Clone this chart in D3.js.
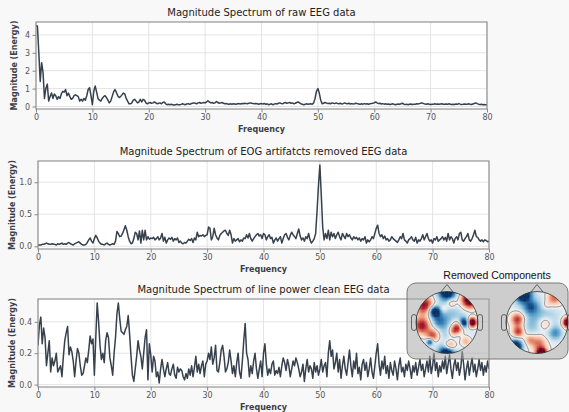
<!DOCTYPE html>
<html><head><meta charset="utf-8">
<script src="https://cdn.jsdelivr.net/npm/d3@7"></script>
<style>body{margin:0;background:#f8f8f8;} svg{display:block}</style>
</head><body><svg id="c" width="569" height="412"></svg>
<script>
// ---------- data ----------
const freqStep = 0.25;               // Hz between spectrum bins
const xTicks = [0,10,20,30,40,50,60,70,80];
const titles = [
  "Magnitude Spectrum of raw EEG data",
  "Magnitude Spectrum of EOG artifatcts removed EEG data",
  "Magnitude Spectrum of line power clean EEG data"
];
const yTicksRaw = [0,1,2,3,4];
const yTicksEog = [0.0,0.5,1.0];
const yTicksClean = [0.0,0.2,0.4];

const rawValues = [
4.5,4.5,3.0,1.4, 2.45,1.9,0.45,1.0, 1.25,0.3,0.55,0.75, 0.45,0.7,0.6,0.4, 0.55,0.45,0.7,0.85,
0.8,0.95,0.6,0.75, 0.55,0.4,0.45,0.6, 0.65,0.6,0.55,0.3, 0.4,0.3,0.45,0.35, 0.6,0.95,1.05,0.6,
0.1,0.85,1.15,0.8, 0.45,0.35,0.3,0.45, 0.55,0.6,0.5,0.35, 0.2,0.3,0.55,0.8, 0.95,0.8,0.6,0.5,
0.55,0.65,0.75,0.7, 0.45,0.3,0.15,0.15, 0.2,0.35,0.4,0.3, 0.2,0.25,0.4,0.25, 0.4,0.35,0.2,0.15,
0.2,0.22,0.18,0.2, 0.25,0.2,0.15,0.18, 0.2,0.15,0.22,0.25, 0.15,0.1,0.12,0.1, 0.12,0.1,0.08,0.1,
0.12,0.1,0.09,0.12, 0.15,0.12,0.1,0.14, 0.16,0.12,0.15,0.18, 0.2,0.18,0.15,0.2, 0.22,0.18,0.2,0.22,
0.2,0.25,0.32,0.25, 0.2,0.22,0.18,0.2, 0.28,0.22,0.18,0.2, 0.22,0.18,0.15,0.16, 0.14,0.12,0.15,0.13,
0.15,0.14,0.12,0.15, 0.16,0.14,0.17,0.15, 0.18,0.16,0.15,0.18, 0.2,0.18,0.16,0.15, 0.17,0.15,0.13,0.15,
0.16,0.14,0.17,0.12, 0.15,0.1,0.12,0.15, 0.1,0.13,0.16,0.14, 0.18,0.2,0.17,0.15, 0.2,0.22,0.18,0.2,
0.22,0.18,0.2,0.15, 0.18,0.22,0.25,0.2, 0.15,0.12,0.1,0.12, 0.15,0.12,0.14,0.15, 0.12,0.2,0.45,0.85,
1.0,0.75,0.35,0.15, 0.18,0.22,0.2,0.16, 0.18,0.15,0.2,0.18, 0.16,0.2,0.17,0.15, 0.18,0.14,0.16,0.2,
0.17,0.15,0.18,0.14, 0.16,0.14,0.15,0.18, 0.16,0.14,0.12,0.15, 0.13,0.16,0.14,0.15, 0.13,0.15,0.16,0.18,
0.2,0.25,0.2,0.16, 0.18,0.14,0.16,0.13, 0.15,0.12,0.14,0.11, 0.13,0.15,0.12,0.1, 0.12,0.14,0.12,0.15,
0.18,0.13,0.11,0.13, 0.1,0.12,0.14,0.11, 0.13,0.12,0.15,0.14, 0.16,0.18,0.2,0.16, 0.14,0.12,0.15,0.13,
0.11,0.13,0.12,0.15, 0.13,0.14,0.12,0.14, 0.15,0.13,0.12,0.14, 0.12,0.15,0.13,0.11, 0.13,0.11,0.14,0.12,
0.16,0.13,0.11,0.12, 0.14,0.12,0.13,0.15, 0.12,0.11,0.14,0.17, 0.2,0.16,0.13,0.11, 0.12,0.1,0.11,0.09,
0.1
];

const eogValues = [
0.02,0.02,0.02,0.03, 0.03,0.04,0.05,0.04, 0.03,0.03,0.04,0.03, 0.03,0.02,0.04,0.03, 0.04,0.05,0.03,0.04,
0.03,0.05,0.06,0.04, 0.03,0.02,0.04,0.05, 0.06,0.07,0.05,0.03, 0.02,0.02,0.03,0.06, 0.1,0.13,0.08,0.05,
0.12,0.17,0.13,0.08, 0.05,0.03,0.03,0.02, 0.04,0.05,0.03,0.02, 0.03,0.04,0.03,0.08, 0.23,0.2,0.15,0.16,
0.2,0.26,0.32,0.25, 0.15,0.08,0.04,0.05, 0.12,0.22,0.2,0.1, 0.24,0.05,0.25,0.1, 0.25,0.1,0.15,0.11,
0.13,0.12,0.14,0.1, 0.12,0.15,0.1,0.13, 0.2,0.08,0.14,0.05, 0.1,0.13,0.11,0.14, 0.08,0.12,0.1,0.13,
0.06,0.08,0.05,0.04, 0.06,0.05,0.08,0.11, 0.09,0.12,0.06,0.13, 0.1,0.22,0.15,0.17, 0.16,0.18,0.15,0.17,
0.18,0.3,0.28,0.1, 0.15,0.28,0.18,0.13, 0.1,0.17,0.2,0.22, 0.24,0.25,0.2,0.17, 0.25,0.18,0.05,0.12,
0.08,0.1,0.12,0.07, 0.1,0.08,0.13,0.12, 0.18,0.13,0.2,0.12, 0.08,0.12,0.15,0.18, 0.2,0.16,0.18,0.12,
0.2,0.18,0.1,0.15, 0.18,0.12,0.14,0.05, 0.1,0.13,0.08,0.12, 0.15,0.05,0.12,0.18, 0.2,0.14,0.1,0.17,
0.22,0.18,0.15,0.12, 0.2,0.27,0.16,0.1, 0.13,0.08,0.15,0.12, 0.2,0.1,0.05,0.08, 0.12,0.2,0.55,0.95,
1.27,0.8,0.3,0.1, 0.2,0.12,0.25,0.1, 0.22,0.15,0.2,0.12, 0.18,0.22,0.15,0.1, 0.2,0.16,0.12,0.2,
0.15,0.18,0.13,0.1, 0.15,0.12,0.14,0.1, 0.13,0.08,0.12,0.1, 0.15,0.05,0.1,0.07, 0.1,0.15,0.12,0.2,
0.28,0.33,0.2,0.15, 0.18,0.12,0.16,0.1, 0.12,0.08,0.1,0.15, 0.12,0.1,0.08,0.06, 0.1,0.15,0.12,0.2,
0.1,0.08,0.05,0.1, 0.12,0.15,0.1,0.08, 0.14,0.05,0.1,0.08, 0.12,0.18,0.1,0.15, 0.2,0.12,0.08,0.1,
0.05,0.12,0.1,0.15, 0.08,0.1,0.12,0.15, 0.1,0.14,0.08,0.2, 0.1,0.15,0.12,0.05, 0.12,0.15,0.1,0.2,
0.22,0.1,0.08,0.12, 0.15,0.2,0.1,0.08, 0.12,0.18,0.25,0.15, 0.14,0.1,0.08,0.1, 0.07,0.1,0.09,0.07,
0.08
];

const cleanValues = [
0.25,0.38,0.43,0.26, 0.36,0.3,0.12,0.2, 0.28,0.08,0.17,0.12, 0.15,0.2,0.08,0.1, 0.12,0.05,0.18,0.28,
0.33,0.37,0.19,0.24, 0.21,0.15,0.05,0.15, 0.23,0.2,0.12,0.06, 0.07,0.12,0.17,0.14, 0.22,0.31,0.26,0.29,
0.06,0.3,0.52,0.4, 0.25,0.16,0.2,0.14, 0.28,0.33,0.3,0.17, 0.12,0.06,0.2,0.3, 0.45,0.52,0.42,0.34,
0.33,0.32,0.35,0.37, 0.44,0.32,0.18,0.06, 0.02,0.1,0.18,0.28, 0.22,0.18,0.1,0.2, 0.3,0.35,0.03,0.26,
0.19,0.08,0.18,0.15, 0.05,0.08,0.01,0.1, 0.16,0.1,0.05,0.1, 0.14,0.07,0.06,0.1, 0.13,0.06,0.04,0.11,
0.08,0.1,0.09,0.05, 0.03,0.07,0.04,0.1, 0.06,0.12,0.05,0.11, 0.18,0.08,0.13,0.07, 0.12,0.15,0.05,0.13,
0.15,0.2,0.16,0.24, 0.13,0.17,0.25,0.09, 0.08,0.14,0.22,0.25, 0.18,0.08,0.1,0.14, 0.22,0.15,0.07,0.12,
0.05,0.14,0.2,0.08, 0.04,0.15,0.28,0.39, 0.2,0.16,0.05,0.12, 0.07,0.15,0.2,0.1, 0.04,0.1,0.15,0.05,
0.2,0.26,0.13,0.06, 0.1,0.07,0.13,0.15, 0.06,0.09,0.07,0.11, 0.05,0.12,0.17,0.14, 0.09,0.16,0.12,0.05,
0.1,0.15,0.12,0.17, 0.14,0.1,0.05,0.08, 0.13,0.02,0.1,0.16, 0.08,0.12,0.1,0.04, 0.14,0.08,0.12,0.06,
0.1,0.16,0.08,0.12, 0.14,0.05,0.2,0.28, 0.18,0.22,0.1,0.14, 0.2,0.08,0.16,0.04, 0.12,0.18,0.1,0.06,
0.14,0.22,0.12,0.05, 0.15,0.1,0.2,0.07, 0.11,0.03,0.13,0.16, 0.09,0.14,0.05,0.1, 0.17,0.08,0.04,0.12,
0.2,0.26,0.13,0.06, 0.15,0.1,0.18,0.07, 0.12,0.04,0.14,0.09, 0.06,0.15,0.1,0.03, 0.12,0.17,0.08,0.11,
0.05,0.13,0.09,0.15, 0.1,0.04,0.12,0.08, 0.14,0.06,0.11,0.16, 0.09,0.13,0.05,0.1, 0.15,0.08,0.18,0.07,
0.12,0.2,0.09,0.14, 0.05,0.12,0.08,0.15, 0.1,0.18,0.07,0.13, 0.19,0.1,0.04,0.12, 0.16,0.09,0.14,0.06,
0.11,0.21,0.13,0.03, 0.1,0.15,0.06,0.12, 0.17,0.08,0.13,0.05, 0.1,0.16,0.09,0.14, 0.06,0.12,0.08,0.15,
0.1
];

// topomap sources for the two removed components: [x, y, amplitude, width] in head units
const comp1Sources = [
 [0,-1.02,-1.6,0.18],[0.72,-0.72,1.5,0.2],[-0.72,-0.55,1.2,0.22],[-0.4,-0.35,-1.4,0.12],
 [0,0,-0.5,0.7],[0.15,-0.62,0.55,0.11],[-0.1,-0.45,0.35,0.09],[0.8,0.0,1.7,0.12],[0.56,0.02,-1.4,0.11],
 [-0.8,0.1,1.2,0.2],[-0.45,0.42,1.0,0.16],[0.35,0.15,1.2,0.15],[0.2,0.3,0.6,0.12],[0,1.02,-1.7,0.17],
 [0.1,0.75,0.9,0.14],[-0.55,0.62,-1.0,0.08],[0.6,0.6,0.6,0.14],[-0.25,-0.05,-0.4,0.15]
];
const comp2Sources = [
 [-0.45,-0.92,-1.6,0.18],[0.55,-0.78,0.8,0.18],[0,-0.1,-0.55,0.55],[-0.62,-0.1,1.1,0.16],
 [-0.6,0.3,1.0,0.14],[0.25,0.05,0.65,0.16],[0.05,0.65,0.8,0.2],[-0.25,0.55,0.5,0.12],[0.15,1.0,1.7,0.12],
 [-0.7,0.78,-1.6,0.15],[1.0,0.0,1.7,0.12],[0.6,0.35,-0.5,0.15],[-0.2,-0.5,-0.6,0.15],[0.3,-0.55,0.3,0.1]
];

// ---------- drawing ----------
const svg = d3.select('#c');
const lineColor = '#36414d';
const FONT = 'DejaVu Sans, sans-serif';

function drawPanel(values, box, yTicks, yFmt, title, idx){
  const xs = d3.scaleLinear().domain([0,80]).range([box.x0, box.x1]);
  const ext = d3.extent(values), R = ext[1]-ext[0];
  const ys = d3.scaleLinear().domain([ext[0]-0.05*R, ext[1]+0.05*R]).range([box.y1, box.y0]);
  const g = svg.append('g');
  g.append('rect').attr('x',box.x0).attr('y',box.y0).attr('width',box.x1-box.x0).attr('height',box.y1-box.y0).attr('fill','#fff');
  // grid
  g.selectAll('.gx').data(xTicks).join('line').attr('x1',d=>xs(d)).attr('x2',d=>xs(d))
    .attr('y1',box.y0).attr('y2',box.y1).attr('stroke','#e1e1e1').attr('stroke-width',0.9);
  g.selectAll('.gy').data(yTicks).join('line').attr('y1',d=>ys(d)).attr('y2',d=>ys(d))
    .attr('x1',box.x0).attr('x2',box.x1).attr('stroke','#e1e1e1').attr('stroke-width',0.9);
  // line
  const cid = 'clip'+idx;
  svg.append('clipPath').attr('id',cid).append('rect').attr('x',box.x0).attr('y',box.y0-2)
    .attr('width',box.x1-box.x0).attr('height',box.y1-box.y0+4);
  const line = d3.line().x((d,i)=>xs(i*freqStep)).y(d=>ys(d));
  g.append('path').datum(values).attr('d',line).attr('fill','none').attr('stroke',lineColor)
    .attr('stroke-width',1.5).attr('stroke-linejoin','round').attr('clip-path',`url(#${cid})`);
  // axes
  const ax = g.append('g').attr('transform',`translate(0,${box.y1})`)
    .call(d3.axisBottom(xs).tickValues(xTicks).tickSize(3.5).tickPadding(2).tickFormat(d3.format('d')));
  const ay = g.append('g').attr('transform',`translate(${box.x0},0)`)
    .call(d3.axisLeft(ys).tickValues(yTicks).tickSize(3.5).tickPadding(2.5).tickFormat(yFmt));
  [ax,ay].forEach(a=>{
    a.select('.domain').remove();
    a.selectAll('line').attr('stroke','#888');
    a.selectAll('text').attr('fill','#555').style('font-family',FONT).style('font-size','8px');
  });
  g.append('rect').attr('x',box.x0).attr('y',box.y0).attr('width',box.x1-box.x0).attr('height',box.y1-box.y0)
    .attr('fill','none').attr('stroke','#8a8a8a').attr('stroke-width',1.1);
  const cx = (box.x0+box.x1)/2;
  g.append('text').attr('x',cx).attr('y',box.y0-6).attr('text-anchor','middle')
    .style('font-family',FONT).style('font-size','10px').attr('fill','#222').text(title);
  g.append('text').attr('x',cx).attr('y',box.y1+23).attr('text-anchor','middle')
    .style('font-family',FONT).style('font-size','8px').style('font-weight','bold').attr('fill','#3a3f47').text('Frequency');
  g.append('text').attr('transform',`translate(${box.ylab},${(box.y0+box.y1)/2}) rotate(-90)`)
    .attr('text-anchor','middle').attr('dy','0.35em')
    .style('font-family',FONT).style('font-size','8px').style('font-weight','bold').attr('fill','#3a3f47').text('Magnitude (Energy)');
}

drawPanel(rawValues, {x0:36,x1:487,y0:22,y1:109,ylab:14}, yTicksRaw, d3.format('d'), titles[0], 0);
drawPanel(eogValues, {x0:38,x1:489,y0:161,y1:249,ylab:12}, yTicksEog, d3.format('.1f'), titles[1], 1);
drawPanel(cleanValues, {x0:38,x1:489,y0:299,y1:387,ylab:12}, yTicksClean, d3.format('.1f'), titles[2], 2);

// ---------- removed components inset ----------
const inset = svg.append('g');
inset.append('text').attr('x',497).attr('y',279).attr('text-anchor','middle')
  .style('font-family','Liberation Sans, Arial, sans-serif').style('font-size','10.5px').attr('fill','#111')
  .text('Removed Components');
inset.append('rect').attr('x',407).attr('y',283).attr('width',161).attr('height',76).attr('rx',9)
  .attr('fill','#a9a9a9').attr('fill-opacity',0.55).attr('stroke','#6f6f6f').attr('stroke-width',0.9);

const color = d3.scaleSequential(t=>d3.interpolateRdBu(1-t)).domain([-1.1,1.1]).clamp(true);
function drawHead(sources, cx, cy, r, id){
  const n = 46;
  const grid = [];
  for(let j=0;j<n;j++) for(let i=0;i<n;i++){
    const x = -1 + 2*(i+0.5)/n, y = -1 + 2*(j+0.5)/n;
    let v = 0;
    sources.forEach(s=>{ const dx=x-s[0], dy=y-s[1]; v += s[2]*Math.exp(-(dx*dx+dy*dy)/(2*s[3]*s[3])); });
    grid.push(v);
  }
  const hg = inset.append('g');
  svg.append('clipPath').attr('id','hc'+id).append('circle').attr('cx',cx).attr('cy',cy).attr('r',r);
  const cell = 2*r/n;
  const mg = hg.append('g').attr('clip-path',`url(#hc${id})`);
  mg.selectAll('rect').data(grid).join('rect')
    .attr('x',(d,k)=>cx-r+(k%n)*cell).attr('y',(d,k)=>cy-r+Math.floor(k/n)*cell)
    .attr('width',cell+0.4).attr('height',cell+0.4).attr('fill',d=>color(d));
  const cont = d3.contours().size([n,n]).thresholds([0])(grid);
  mg.selectAll('path').data(cont).join('path')
    .attr('d',d3.geoPath(d3.geoIdentity().scale(cell).translate([cx-r,cy-r])))
    .attr('fill','none').attr('stroke','#444').attr('stroke-width',0.5);
  // outline, nose, ears
  hg.append('circle').attr('cx',cx).attr('cy',cy).attr('r',r).attr('fill','none').attr('stroke','#333').attr('stroke-width',0.8);
  hg.append('path').attr('d',`M${cx-6},${cy-r+0.5}L${cx},${cy-r-7}L${cx+6},${cy-r+0.5}`)
    .attr('fill','none').attr('stroke','#333').attr('stroke-width',0.7);
  [-1,1].forEach(sd=>{
    hg.append('rect').attr('x',sd<0?cx-r-4.5:cx+r-0.5).attr('y',cy-8).attr('width',5).attr('height',16).attr('rx',2.5)
      .attr('fill','none').attr('stroke','#333').attr('stroke-width',0.7);
  });
}
drawHead(comp1Sources, 447, 322.5, 31, 1);
drawHead(comp2Sources, 537, 322.5, 31, 2);
</script></body></html>
